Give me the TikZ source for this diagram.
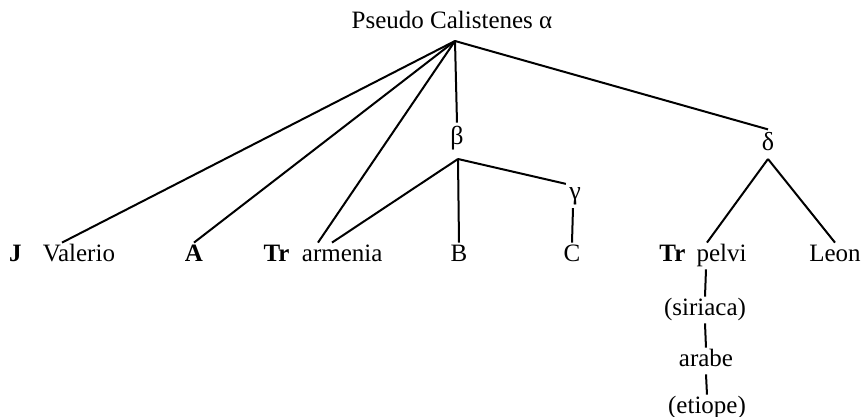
\documentclass[tikz,border=0pt]{standalone}
\usepackage{fontspec}
\setmainfont{Liberation Serif}

\begin{document}
\begin{tikzpicture}[
    x=0.5pt, y=-0.5pt,
    witness/.style={font=\fontsize{12.5}{14}\selectfont, inner sep=1pt,
                    text height=8.5pt, text depth=2.5pt, anchor=base},
    branch/.style={font=\fontsize{13}{14}\selectfont, inner sep=1.5pt},
    stem/.style={-, line width=1pt, color=black}
]
\useasboundingbox (0,0) rectangle (864,417);

% --- archetype ---
\node[witness] (pseudo) at (452,29) {Pseudo Calistenes α};
\coordinate (apex) at (455,41);

% --- lost intermediate branches ---
\node[branch] (beta)  at (457,138) {β};
\coordinate (bjunc) at (458,159);
\node[branch] (gamma) at (575,196) {γ};
\node[branch] (delta) at (768,142) {δ};
\coordinate (djunc) at (768,159);

% --- witnesses ---
\node[witness] (valerio) at (62,262)  {\textbf{J}\hspace{0.85em}Valerio};
\node[witness] (codA)    at (194,262) {\textbf{A}};
\node[witness] (armenia) at (323,262) {\textbf{Tr}\hspace{0.5em}armenia};
\node[witness] (codB)    at (459,262) {B};
\node[witness] (codC)    at (572,262) {C};
\node[witness] (pelvi)   at (703,262) {\textbf{Tr}\hspace{0.45em}pelvi};
\node[witness] (leon)    at (835,262) {Leon};

% --- eastern line ---
\node[witness] (siriaca) at (705,316) {(siriaca)};
\node[witness] (arabe)   at (706,367) {arabe};
\node[witness] (etiope)  at (707,414) {(etiope)};

% --- connections: archetype ---
\draw[stem] (apex) -- (valerio.north);
\draw[stem] (apex) -- (codA.north);
\draw[stem] (apex) -- ([xshift=-2.5pt]armenia.north);
\draw[stem] (apex) -- (beta.north);
\draw[stem] (apex) -- (delta.north);

% --- connections: beta / gamma ---
\draw[stem] (bjunc) -- ([xshift=4.5pt]armenia.north);
\draw[stem] (bjunc) -- (codB.north);
\draw[stem] (bjunc) -- (gamma.north west);
\draw[stem] ([xshift=-1pt]gamma.south) -- (codC.north);

% --- connections: delta ---
\draw[stem] (djunc) -- ([xshift=2pt]pelvi.north);
\draw[stem] (djunc) -- (leon.north);
\draw[stem] ([xshift=1.5pt]pelvi.south) -- (siriaca.north);
\draw[stem] (siriaca.south) -- (arabe.north);
\draw[stem] (arabe.south) -- (etiope.north);

\end{tikzpicture}
\end{document}
